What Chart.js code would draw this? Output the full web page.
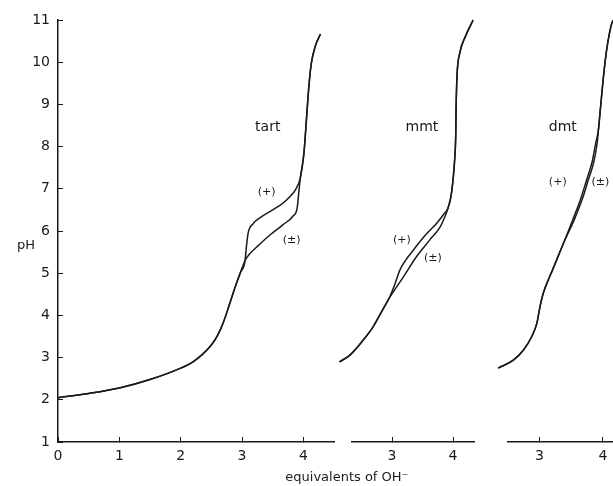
<!DOCTYPE html>
<html><head><meta charset="utf-8">
<script src="https://cdn.jsdelivr.net/npm/chart.js@4.4.0/dist/chart.umd.min.js"></script>
<style>
html,body{margin:0;padding:0;background:#fff;}
#wrap{position:relative;width:613px;height:486px;overflow:hidden;background:#fff;}
canvas{position:absolute;top:0;}
</style></head><body>
<div id="wrap">
<canvas id="c1" width="613" height="486" style="left:0"></canvas>
<canvas id="c2" width="145" height="486" style="left:335px"></canvas>
<canvas id="c3" width="123" height="486" style="left:490px"></canvas>
</div>
<script>
// ---- data ----
const yTickValues = [1,2,3,4,5,6,7,8,9,10,11];
const tartXTicks = [0,1,2,3,4];
const mmtXTicks = [3,4];
const dmtXTicks = [3,4];

// tart titration curve pieces [equiv OH-, pH]
const tartBase = [[0,2.05],[0.5,2.15],[1,2.28],[1.5,2.48],[2,2.75],[2.2,2.9],[2.35,3.07],[2.5,3.3],[2.6,3.52],[2.7,3.85],[2.8,4.28],[2.9,4.72],[2.97,5.0],[3.05,5.3]];
const tartPlus = [[3.07,5.6],[3.1,5.95],[3.18,6.17],[3.29,6.31],[3.5,6.5],[3.65,6.64],[3.78,6.81],[3.88,7.0]];
const tartRac = [[3.12,5.45],[3.24,5.62],[3.45,5.9],[3.66,6.14],[3.83,6.35],[3.9,6.55],[3.925,6.9]];
const tartTop = [[3.95,7.25],[4.01,7.85],[4.05,8.63],[4.09,9.42],[4.13,9.97],[4.2,10.4],[4.28,10.67]];

// mmt
const mmtBase = [[2.14,2.9],[2.31,3.06],[2.53,3.42],[2.69,3.73],[2.83,4.09],[2.95,4.4]];
const mmtPlus = [[3.05,4.75],[3.13,5.08],[3.35,5.55],[3.57,5.94],[3.73,6.18],[3.86,6.42]];
const mmtRac = [[3.19,4.92],[3.4,5.39],[3.62,5.79],[3.79,6.1],[3.87,6.35]];
const mmtTop = [[3.92,6.55],[3.97,6.85],[4.0,7.21],[4.03,7.76],[4.045,8.3],[4.05,8.87],[4.065,9.66],[4.11,10.21],[4.2,10.6],[4.33,11.0]];

// dmt
const dmtBase = [[2.35,2.75],[2.59,2.94],[2.75,3.18],[2.88,3.5],[2.96,3.81],[3.01,4.21],[3.06,4.52],[3.14,4.84],[3.2,5.05],[3.38,5.71]];
const dmtPlus = [[3.53,6.28],[3.65,6.76],[3.75,7.24],[3.83,7.63],[3.89,8.1]];
const dmtRac = [[3.55,6.27],[3.675,6.75],[3.775,7.23],[3.855,7.62],[3.91,8.08]];
const dmtTop = [[3.93,8.39],[3.96,8.87],[4.01,9.66],[4.06,10.29],[4.14,10.92],[4.17,11.0]];

// text annotations (data coordinates)
const tartLabels = [
  {text:'tart', x:3.42, y:8.46, size:14},
  {text:'(+)', x:3.40, y:6.92, size:11},
  {text:'(±)', x:3.81, y:5.79, size:11},
  {text:'pH', x:-0.52, y:5.66, size:13},
  {text:'equivalents of OH⁻', x:4.71, y:0.15, size:13}
];
const mmtLabels = [
  {text:'mmt', x:3.49, y:8.46, size:14},
  {text:'(+)', x:3.16, y:5.79, size:11},
  {text:'(±)', x:3.67, y:5.36, size:11}
];
const dmtLabels = [
  {text:'dmt', x:3.37, y:8.46, size:14},
  {text:'(+)', x:3.29, y:7.16, size:11},
  {text:'(±)', x:3.96, y:7.16, size:11}
];

// ---- drawing ----
const FAMILY = "'DejaVu Sans', sans-serif";
const INK = '#1a1a1a';

const textPlugin = {
  id: 'texts',
  afterDatasetsDraw(chart, args, opts) {
    const ctx = chart.ctx, xs = chart.scales.x, ys = chart.scales.y;
    ctx.save();
    ctx.fillStyle = INK;
    ctx.textAlign = 'center';
    ctx.textBaseline = 'middle';
    (opts.items || []).forEach(it => {
      ctx.font = it.size + 'px ' + FAMILY;
      ctx.fillText(it.text, xs.getPixelForValue(it.x), ys.getPixelForValue(it.y));
    });
    ctx.restore();
  }
};

function toPts(...parts) {
  return [].concat(...parts).map(p => ({x: p[0], y: p[1]}));
}

function lineDs(label, data) {
  return {label, data, borderColor: INK, borderWidth: 1.5, pointRadius: 0,
    fill: false, cubicInterpolationMode: 'monotone', clip: false};
}

function panel(id, xMin, xMax, xTicks, showY, padding, plus, rac, labels) {
  const setLimits = s => { s.min = xMin; s.max = xMax; };
  return new Chart(document.getElementById(id), {
    type: 'line',
    data: {datasets: [lineDs('(+)', plus), lineDs('(±)', rac)]},
    options: {
      responsive: false, animation: false,
      layout: {padding},
      plugins: {legend: {display: false}, tooltip: {enabled: false}, texts: {items: labels}},
      scales: {
        x: {
          type: 'linear', bounds: 'data',
          // limits set in hooks (not via min/max) so curve parts left of the axis are still drawn
          afterDataLimits: setLimits,
          afterBuildTicks: s => { s.ticks = xTicks.map(v => ({value: v})); setLimits(s); },
          afterFit: s => { s.height = 44; s.paddingLeft = 0; s.paddingRight = 0; },
          grid: {drawOnChartArea: false, tickLength: -5, color: INK, lineWidth: 1},
          border: {color: INK, width: 1.5},
          ticks: {padding: 11, color: INK, font: {family: FAMILY, size: 14}, maxRotation: 0}
        },
        y: {
          type: 'linear', min: 1, max: 11, display: showY,
          afterBuildTicks: s => { s.ticks = yTickValues.map(v => ({value: v})); },
          afterFit: s => { s.width = showY ? 58 : 0; s.paddingTop = 0; s.paddingBottom = 0; },
          grid: {drawOnChartArea: false, tickLength: -5, color: INK, lineWidth: 1},
          border: {color: INK, width: 1.5},
          ticks: {padding: 13, color: INK, font: {family: FAMILY, size: 14}}
        }
      }
    },
    plugins: [textPlugin]
  });
}

panel('c1', 0, 4.5, tartXTicks, true, {top: 20, right: 279, left: 0, bottom: 0},
  toPts(tartBase, tartPlus, tartTop), toPts(tartBase, tartRac, tartTop), tartLabels);
panel('c2', 2.344, 4.344, mmtXTicks, false, {top: 20, right: 6, left: 17, bottom: 0},
  toPts(mmtBase, mmtPlus, mmtTop), toPts(mmtBase, mmtRac, mmtTop), mmtLabels);
panel('c3', 2.506, 4.16, dmtXTicks, false, {top: 20, right: 0, left: 18, bottom: 0},
  toPts(dmtBase, dmtPlus, dmtTop), toPts(dmtBase, dmtRac, dmtTop), dmtLabels);
</script>
</body></html>
